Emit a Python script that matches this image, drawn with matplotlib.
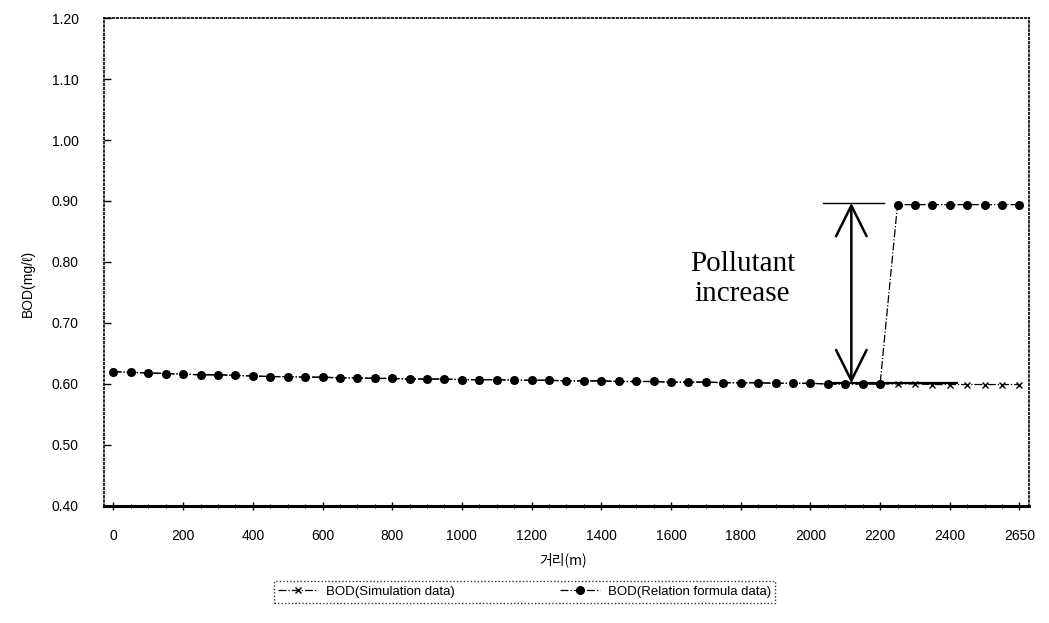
import matplotlib.pyplot as plt
from matplotlib.ticker import FixedLocator, MultipleLocator, FormatStrFormatter

plt.rcParams['font.family'] = ['Liberation Sans', 'Noto Sans CJK KR', 'DejaVu Sans']

# distance along the stream (m), one category per station
distance = list(range(0, 2600, 50)) + [2650]

# BOD from the simulation model (mg/l)
bod_simulation = [
    0.620, 0.619, 0.618, 0.617, 0.616, 0.615, 0.615, 0.614, 0.613, 0.612,
    0.612, 0.611, 0.611, 0.610, 0.610, 0.609, 0.609, 0.608, 0.608, 0.608,
    0.607, 0.607, 0.607, 0.606, 0.606, 0.606, 0.605, 0.605, 0.605, 0.604,
    0.604, 0.604, 0.603, 0.603, 0.603, 0.602, 0.602, 0.602, 0.601, 0.601,
    0.601, 0.600, 0.600, 0.600, 0.600, 0.600, 0.600, 0.599, 0.599, 0.599,
    0.599, 0.599, 0.599,
]

# BOD from the relation formula (mg/l)
bod_relation = [
    0.620, 0.619, 0.618, 0.617, 0.616, 0.615, 0.615, 0.614, 0.613, 0.612,
    0.612, 0.611, 0.611, 0.610, 0.610, 0.609, 0.609, 0.608, 0.608, 0.608,
    0.607, 0.607, 0.607, 0.606, 0.606, 0.606, 0.605, 0.605, 0.605, 0.604,
    0.604, 0.604, 0.603, 0.603, 0.603, 0.602, 0.602, 0.602, 0.601, 0.601,
    0.601, 0.600, 0.600, 0.600, 0.600, 0.894, 0.894, 0.894, 0.894, 0.894,
    0.894, 0.894, 0.894,
]

series_labels = ['BOD(Simulation data)', 'BOD(Relation formula data)']
label_every = 4

fig = plt.figure(figsize=(10.49, 6.23), dpi=100)
ax = fig.add_axes([0.099, 0.188, 0.882, 0.783])

idx = list(range(len(distance)))
ax.plot(idx, bod_simulation, color='black', linestyle='-.', linewidth=0.9,
        marker='x', markersize=4, markeredgewidth=1.0, label=series_labels[0])
ax.plot(idx, bod_relation, color='black', linestyle='-.', linewidth=0.9,
        marker='o', markersize=5.5, label=series_labels[1])

ax.set_xlim(-0.55, len(distance) - 0.45)
ax.set_ylim(0.40, 1.20)

tick_pos = idx[::label_every]
ax.xaxis.set_major_locator(FixedLocator(tick_pos))
ax.set_xticklabels([str(distance[i]) for i in tick_pos])
ax.xaxis.set_minor_locator(MultipleLocator(1))
ax.yaxis.set_major_locator(MultipleLocator(0.1))
ax.yaxis.set_major_formatter(FormatStrFormatter('%.2f'))

ax.tick_params(axis='x', which='major', direction='inout', length=6, width=1,
               pad=14, labelsize=10)
ax.tick_params(axis='x', which='minor', direction='inout', length=3, width=0.8)
ax.tick_params(axis='y', direction='in', length=5, width=1, pad=18, labelsize=10)

for side in ['top', 'right', 'left']:
    ax.spines[side].set_linestyle((0, (1, 1.5)))
    ax.spines[side].set_linewidth(1.2)
ax.spines['bottom'].set_linewidth(2.2)

# annotation: increase between the two series
x_arrow = 42.35
ax.annotate('', xy=(x_arrow, 0.897), xytext=(x_arrow, 0.601),
            arrowprops=dict(arrowstyle='<->,head_length=2.2,head_width=1.1',
                            mutation_scale=10, color='black', lw=1.8,
                            shrinkA=0, shrinkB=0))
ax.plot([40.7, 44.2], [0.897, 0.897], color='black', linewidth=1.0)
ax.plot([41.2, 48.4], [0.601, 0.601], color='black', linewidth=1.6)
ax.text(36.1, 0.772, 'Pollutant\nincrease', family='Liberation Serif',
        fontsize=21, ha='center', va='center', linespacing=1.2)

fig.text(0.027, 0.545, 'BOD(mg/ℓ)', rotation=90, ha='center', va='center',
         fontsize=10)
fig.text(0.537, 0.101, '거리(m)', ha='center', va='center', fontsize=10,
         family=['Noto Sans CJK KR', 'DejaVu Sans'])

leg = fig.legend(loc='center', bbox_to_anchor=(0.50, 0.050), ncol=2,
                 frameon=True, fancybox=False, fontsize=9.5,
                 handlelength=3.0, columnspacing=8, borderpad=0.35,
                 borderaxespad=0, handletextpad=0.6)
leg.get_frame().set_edgecolor('black')
leg.get_frame().set_linestyle((0, (1, 1.5)))
leg.get_frame().set_linewidth(1.0)

fig.savefig('out.png', dpi=100)
